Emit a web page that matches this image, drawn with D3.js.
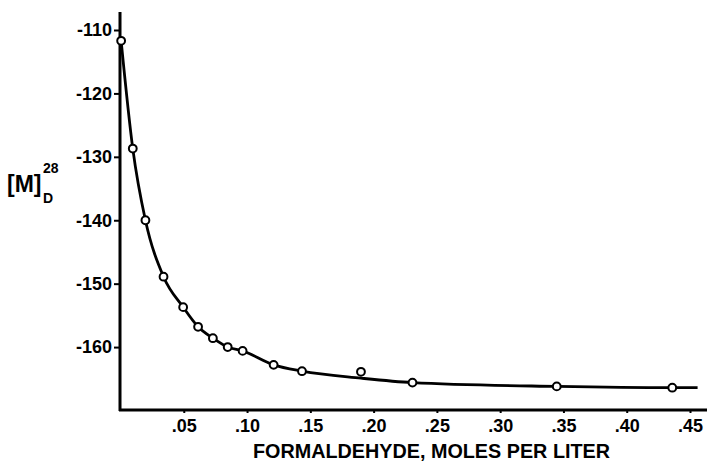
<!DOCTYPE html>
<html><head><meta charset="utf-8">
<script src="https://cdn.jsdelivr.net/npm/d3@7"></script>
<style>
html,body{margin:0;padding:0;background:#fff;}
text{font-family:"Liberation Sans",Arial,sans-serif;font-weight:bold;fill:#000;}
</style></head>
<body><svg id="c" width="707" height="466"></svg>
<script>
// Measured points: formaldehyde (moles/liter) vs [M]D28
const concentration = [0.0005, 0.0097, 0.0197, 0.034, 0.0495, 0.0613, 0.073, 0.0847, 0.0965, 0.121, 0.1434, 0.19, 0.2307, 0.3447, 0.436];
const rotation = [-111.7, -128.7, -140.0, -148.9, -153.7, -156.8, -158.6, -160.0, -160.6, -162.8, -163.8, -163.9, -165.6, -166.2, -166.4];
// Smooth drawn curve
const curveX = [0.0005, 0.0097, 0.0197, 0.034, 0.0495, 0.0613, 0.073, 0.0847, 0.0965, 0.121, 0.1434, 0.19, 0.2307, 0.3447, 0.436, 0.456];
const curveY = [-111.7, -128.7, -140.0, -148.9, -153.7, -156.8, -158.6, -160.0, -160.6, -162.8, -163.8, -164.9, -165.6, -166.2, -166.4, -166.4];
const xTicks = [0.05, 0.10, 0.15, 0.20, 0.25, 0.30, 0.35, 0.40, 0.45];
const yTicks = [-110, -120, -130, -140, -150, -160];
const xTitle = "FORMALDEHYDE, MOLES PER LITER";

const svg = d3.select("#c");
const x = d3.scaleLinear().domain([0, 0.45]).range([120.5, 690]);
const y = d3.scaleLinear().domain([-170, -110]).range([410.5, 30]);

// axes lines
svg.append("line").attr("x1", 120).attr("x2", 120).attr("y1", 12).attr("y2", 411)
  .attr("stroke", "#000").attr("stroke-width", 3);
svg.append("line").attr("x1", 119).attr("x2", 707).attr("y1", 410).attr("y2", 410)
  .attr("stroke", "#000").attr("stroke-width", 3);

// y axis ticks & labels
const yAxis = d3.axisLeft(y).tickValues(yTicks).tickSize(6).tickPadding(2)
  .tickFormat(d => "-" + Math.abs(d));
const gy = svg.append("g").attr("transform", "translate(120,0)").call(yAxis);
gy.select(".domain").remove();
gy.selectAll(".tick line").attr("stroke-width", 2);
gy.selectAll(".tick text").style("font-size", "18px").attr("font-family", null);

// x axis ticks & labels
const xAxis = d3.axisBottom(x).tickValues(xTicks).tickSize(3).tickPadding(6)
  .tickFormat(d => d3.format(".2f")(d).replace(/^0/, ""));
const gx = svg.append("g").attr("transform", "translate(0,410)").call(xAxis);
gx.select(".domain").remove();
gx.selectAll(".tick line").attr("stroke-width", 2);
gx.selectAll(".tick text").style("font-size", "18px").attr("font-family", null);

// x title
svg.append("text").attr("x", 253).attr("y", 458).attr("textLength", 357)
  .attr("lengthAdjust", "spacingAndGlyphs").style("font-size", "20px").text(xTitle);

// y title [M]D28
svg.append("text").attr("x", 7).attr("y", 192).style("font-size", "23px").text("[M]");
svg.append("text").attr("x", 43).attr("y", 173).style("font-size", "14px").text("28");
svg.append("text").attr("x", 43).attr("y", 203).style("font-size", "14px").text("D");

// curve
const line = d3.line().x(d => x(d[0])).y(d => y(d[1])).curve(d3.curveMonotoneX);
svg.append("path").datum(d3.zip(curveX, curveY)).attr("d", line)
  .attr("fill", "none").attr("stroke", "#000").attr("stroke-width", 2.8);

// points
svg.append("g").selectAll("circle").data(d3.zip(concentration, rotation)).join("circle")
  .attr("cx", d => x(d[0])).attr("cy", d => y(d[1])).attr("r", 3.9)
  .attr("fill", "#fff").attr("stroke", "#000").attr("stroke-width", 2);
</script></body></html>
